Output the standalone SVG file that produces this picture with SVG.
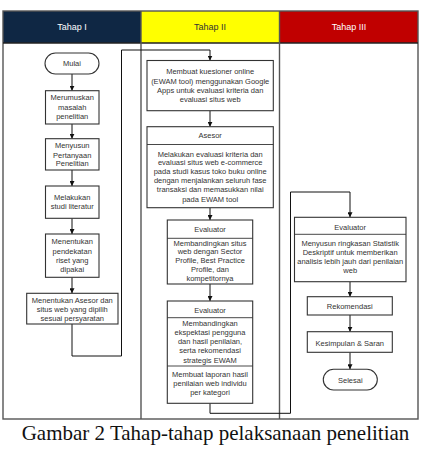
<svg xmlns="http://www.w3.org/2000/svg" width="421" height="449" viewBox="0 0 421 449">
<defs>
<marker id="arr" viewBox="0 0 6 6" refX="6" refY="3" markerWidth="5" markerHeight="5" orient="auto" markerUnits="userSpaceOnUse">
<path d="M0,0 L6,3 L0,6 z" fill="#111"/>
</marker>
<style>
.box{fill:#fff;stroke:#333;stroke-width:1.1}
.div{fill:none;stroke:#333;stroke-width:0.9}
.t{font-family:"Liberation Sans",Arial,sans-serif;font-size:7.5px;fill:#333;text-anchor:middle}
.h{font-family:"Liberation Sans",Arial,sans-serif;font-size:9px;text-anchor:middle}
.c{fill:none;stroke:#111;stroke-width:1}
.frame{fill:none;stroke:#555;stroke-width:1.4}
</style>
</defs>
<rect width="421" height="449" fill="#fff"/>
<g id="lanes">
<rect x="3" y="11" width="138" height="32" fill="#0f2744"/>
<rect x="141" y="11" width="138.5" height="32" fill="#ffff00"/>
<rect x="279.5" y="11" width="138.5" height="32" fill="#c00000"/>
<text class="h" x="72" y="30" fill="#fff">Tahap I</text>
<text class="h" x="210" y="30" fill="#333">Tahap II</text>
<text class="h" x="349" y="30" fill="#fff">Tahap III</text>
<rect class="frame" x="3" y="11" width="415" height="408"/>
<line class="frame" x1="3" y1="43" x2="418" y2="43" style="stroke:#222"/>
<line class="frame" x1="141" y1="11" x2="141" y2="419"/>
<line class="frame" x1="279.5" y1="11" x2="279.5" y2="419"/>
</g>
<g id="connectors">
<line class="c" x1="72" y1="74" x2="72" y2="90.7" marker-end="url(#arr)"/>
<line class="c" x1="72" y1="124" x2="72" y2="138.7" marker-end="url(#arr)"/>
<line class="c" x1="72" y1="170" x2="72" y2="186" marker-end="url(#arr)"/>
<line class="c" x1="72" y1="218.3" x2="72" y2="234" marker-end="url(#arr)"/>
<line class="c" x1="72" y1="277.3" x2="72" y2="293.3" marker-end="url(#arr)"/>
<path class="c" d="M72,324 V356 H121.5 V50 H210 V60.5" marker-end="url(#arr)"/>
<line class="c" x1="210" y1="110.7" x2="210" y2="126.7" marker-end="url(#arr)"/>
<line class="c" x1="210" y1="207.7" x2="210" y2="220" marker-end="url(#arr)"/>
<line class="c" x1="210" y1="284" x2="210" y2="301" marker-end="url(#arr)"/>
<path class="c" d="M210,403.3 V413.3 H290.5 V192 H350 V217.3" marker-end="url(#arr)"/>
<line class="c" x1="350" y1="281.7" x2="350" y2="296.7" marker-end="url(#arr)"/>
<line class="c" x1="350" y1="315" x2="350" y2="331.7" marker-end="url(#arr)"/>
<line class="c" x1="350" y1="352.3" x2="350" y2="369.3" marker-end="url(#arr)"/>
</g>
<g id="mulai">
<rect class="box" x="45" y="53" width="54" height="21" rx="10.5"/>
<text class="t" x="72" y="66.2">Mulai</text>
</g>
<g id="merumuskan">
<rect class="box" x="45.5" y="90.7" width="53.5" height="33.3"/>
<text class="t" x="72.2" y="100.4">Merumuskan</text>
<text class="t" x="72.2" y="110">masalah</text>
<text class="t" x="72.2" y="119.4">penelitian</text>
</g>
<g id="menyusun">
<rect class="box" x="45.5" y="138.7" width="53.5" height="31.3"/>
<text class="t" x="72.2" y="148.4">Menyusun</text>
<text class="t" x="72.2" y="157.7">Pertanyaan</text>
<text class="t" x="72.2" y="166.4">Penelitian</text>
</g>
<g id="literatur">
<rect class="box" x="45.5" y="186" width="53.5" height="32.3"/>
<text class="t" x="72.2" y="200">Melakukan</text>
<text class="t" x="72.2" y="209.4">studi literatur</text>
</g>
<g id="pendekatan">
<rect class="box" x="45.5" y="234" width="53.5" height="43.3"/>
<text class="t" x="72.2" y="244.4">Menentukan</text>
<text class="t" x="72.2" y="253.7">pendekatan</text>
<text class="t" x="72.2" y="262.7">riset yang</text>
<text class="t" x="72.2" y="271.7">dipakai</text>
</g>
<g id="asesor-situs">
<rect class="box" x="26.7" y="293.3" width="91.3" height="30.7"/>
<text class="t" x="72.3" y="303.4">Menentukan Asesor dan</text>
<text class="t" x="72.3" y="312">situs web yang dipilih</text>
<text class="t" x="72.3" y="321">sesuai persyaratan</text>
</g>
<g id="kuesioner">
<rect class="box" x="147" y="60.5" width="126.3" height="50.2"/>
<text class="t" x="210.2" y="74.4">Membuat kuesioner online</text>
<text class="t" x="210.2" y="83.7">(EWAM tool) menggunakan Google</text>
<text class="t" x="210.2" y="92.7">Apps untuk evaluasi kriteria dan</text>
<text class="t" x="210.2" y="101.7">evaluasi situs web</text>
</g>
<g id="asesor">
<rect class="box" x="147" y="126.7" width="126.3" height="81"/>
<line class="div" x1="147" y1="144.5" x2="273.3" y2="144.5"/>
<text class="t" x="210.2" y="138.4">Asesor</text>
<text class="t" x="210.2" y="156.7">Melakukan evaluasi kriteria dan</text>
<text class="t" x="210.2" y="165.4">evaluasi situs web e-commerce</text>
<text class="t" x="210.2" y="174.4">pada studi kasus toko buku online</text>
<text class="t" x="210.2" y="183.4">dengan menjalankan seluruh fase</text>
<text class="t" x="210.2" y="192.4">transaksi dan memasukkan nilai</text>
<text class="t" x="210.2" y="201.7">pada EWAM tool</text>
</g>
<g id="evaluator1">
<rect class="box" x="167.3" y="220" width="85.4" height="64"/>
<line class="div" x1="167.3" y1="238.3" x2="252.7" y2="238.3"/>
<text class="t" x="210" y="232">Evaluator</text>
<text class="t" x="210" y="245.7">Membandingkan situs</text>
<text class="t" x="210" y="254.4">web dengan Sector</text>
<text class="t" x="210" y="263.4">Profile, Best Practice</text>
<text class="t" x="210" y="272">Profile, dan</text>
<text class="t" x="210" y="280.7">kompetitornya</text>
</g>
<g id="evaluator2">
<rect class="box" x="167.3" y="301" width="85.4" height="102.3"/>
<line class="div" x1="167.3" y1="317.7" x2="252.7" y2="317.7"/>
<line class="div" x1="167.3" y1="366" x2="252.7" y2="366"/>
<text class="t" x="210" y="312.7">Evaluator</text>
<text class="t" x="210" y="326">Membandingkan</text>
<text class="t" x="210" y="335.4">ekspektasi pengguna</text>
<text class="t" x="210" y="344.4">dan hasil penilaian,</text>
<text class="t" x="210" y="353.4">serta rekomendasi</text>
<text class="t" x="210" y="362.7">strategis EWAM</text>
<text class="t" x="210" y="376.7">Membuat laporan hasil</text>
<text class="t" x="210" y="386">penilaian web individu</text>
<text class="t" x="210" y="395">per kategori</text>
</g>
<g id="evaluator3">
<rect class="box" x="294.5" y="217.3" width="111.5" height="64.4"/>
<line class="div" x1="294.5" y1="234.3" x2="406" y2="234.3"/>
<text class="t" x="350.2" y="229.7">Evaluator</text>
<text class="t" x="350.2" y="246">Menyusun ringkasan Statistik</text>
<text class="t" x="350.2" y="255.4">Deskriptif untuk memberikan</text>
<text class="t" x="350.2" y="264.4">analisis lebih jauh dari penilaian</text>
<text class="t" x="350.2" y="273.4">web</text>
</g>
<g id="rekomendasi">
<rect class="box" x="307.3" y="296.7" width="85" height="18.3"/>
<text class="t" x="349.8" y="308.7">Rekomendasi</text>
</g>
<g id="kesimpulan">
<rect class="box" x="307.3" y="331.7" width="85" height="20.6"/>
<text class="t" x="349.8" y="346">Kesimpulan &amp; Saran</text>
</g>
<g id="selesai">
<rect class="box" x="323.3" y="369.3" width="54" height="20.7" rx="10.3"/>
<text class="t" x="350.3" y="383.4">Selesai</text>
</g>
<text x="215.5" y="440" font-family="'Liberation Serif','Times New Roman',serif" font-size="21" text-anchor="middle" fill="#111">Gambar 2 Tahap-tahap pelaksanaan penelitian</text>
</svg>
